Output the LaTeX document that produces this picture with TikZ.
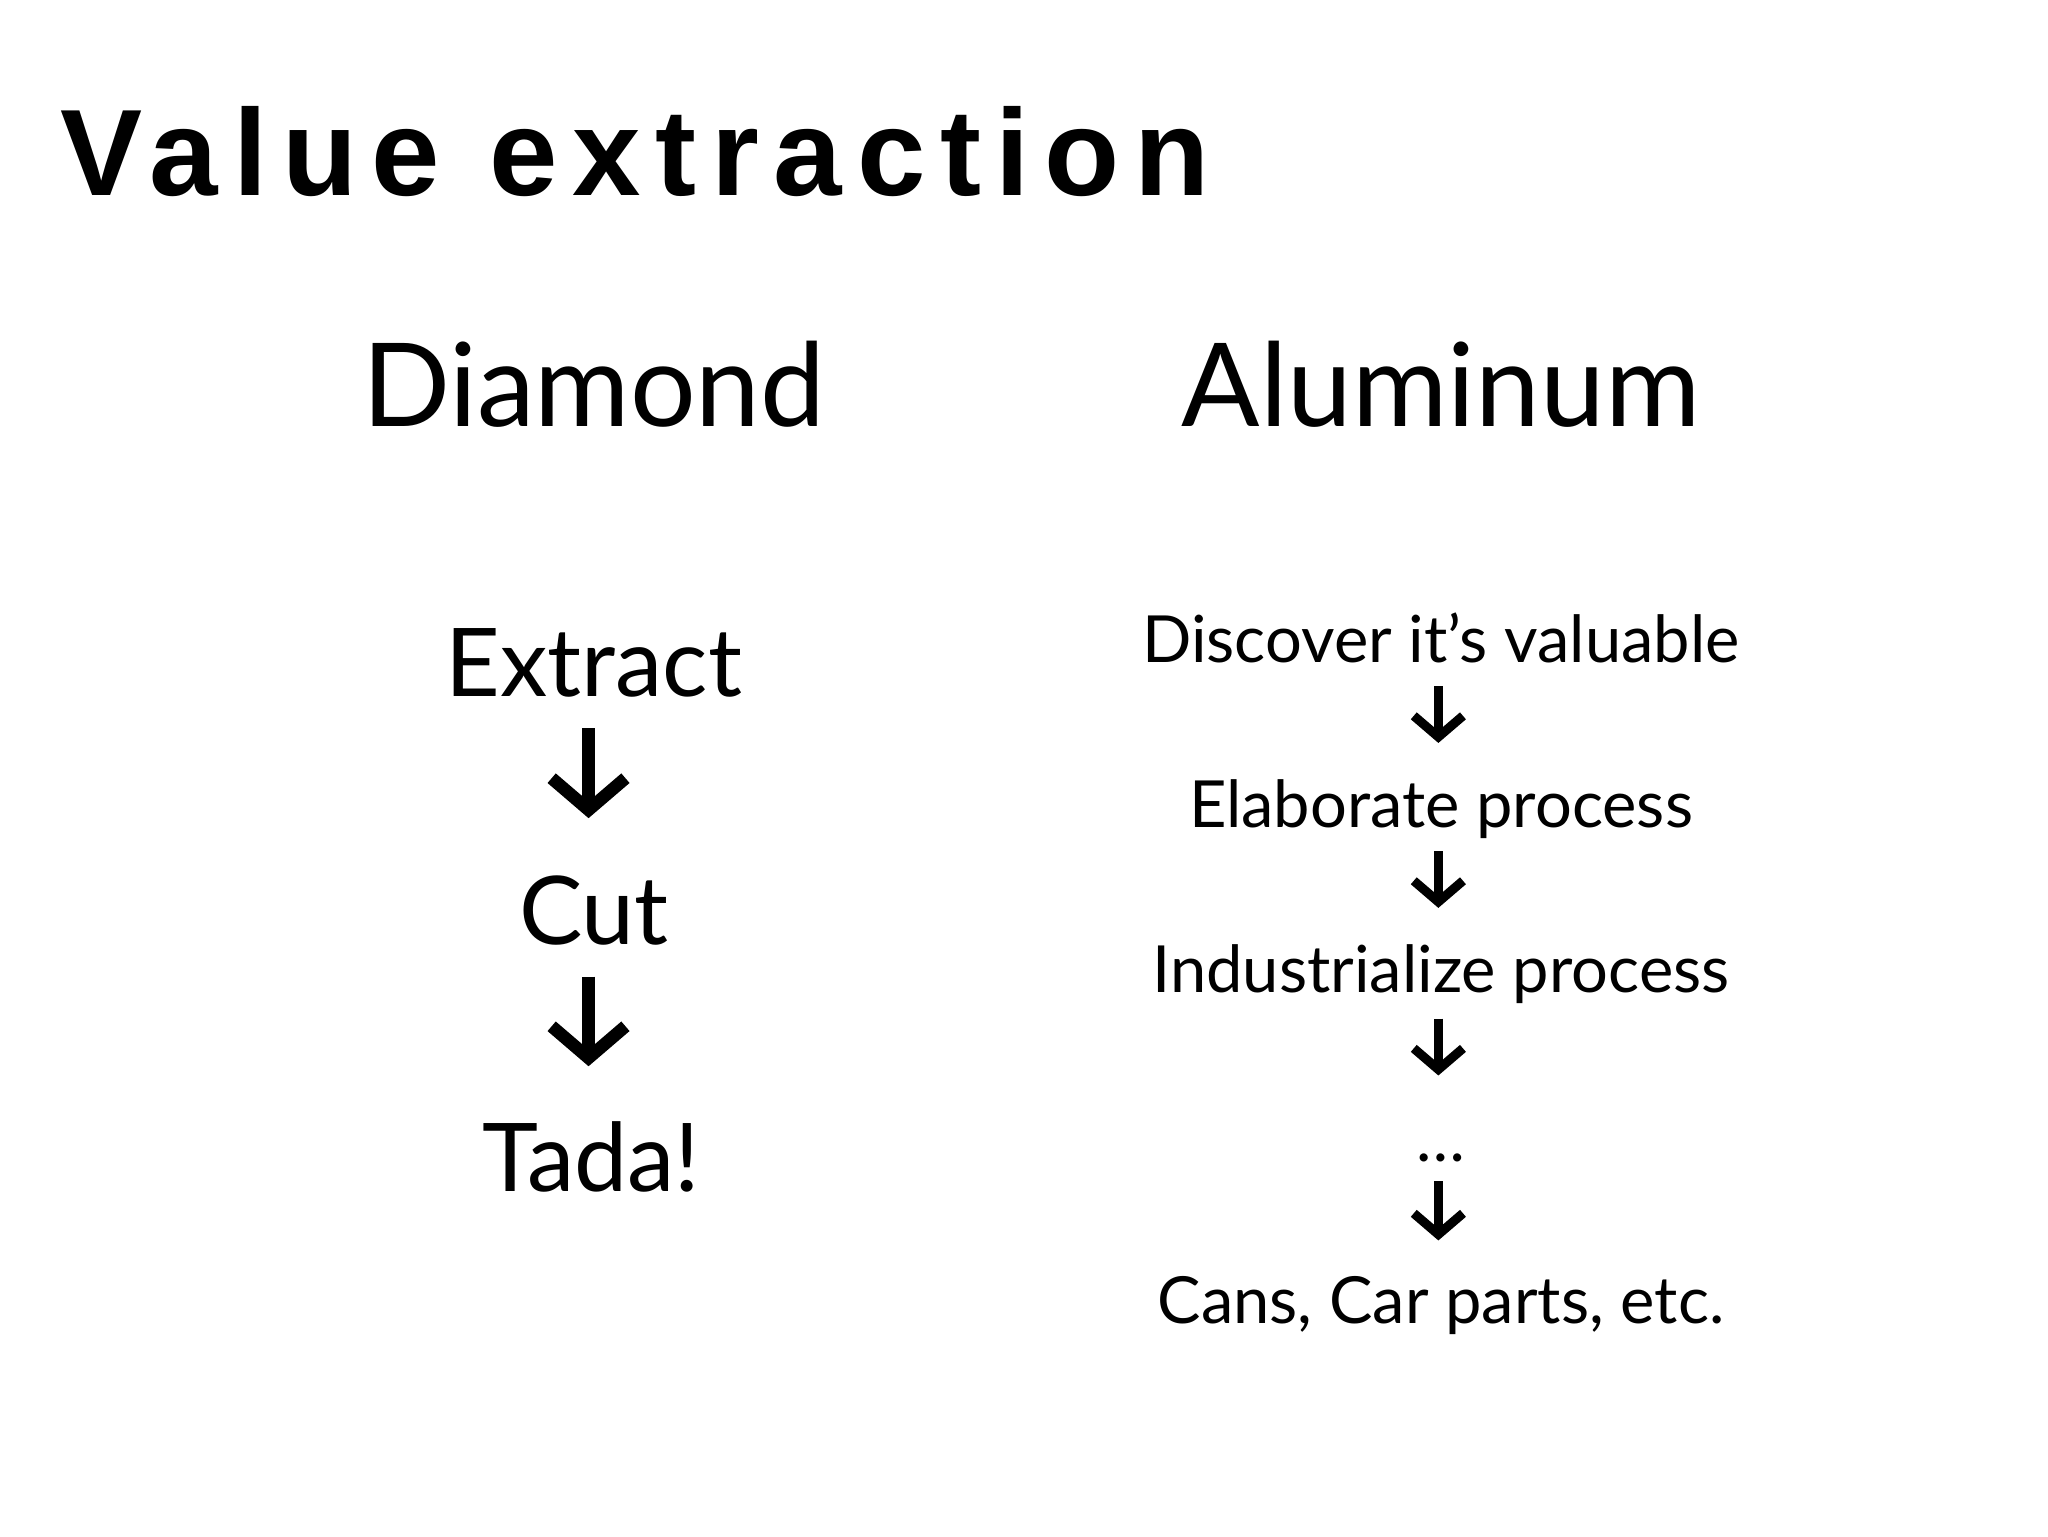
\documentclass[tikz,border=0pt]{standalone}
\usepackage{fontspec}
\setmainfont{Lato}
\newfontfamily\titlefont[LetterSpace=12]{Liberation Sans}
\usetikzlibrary{arrows.meta}
\tikzset{
  lbl/.style={anchor=base,inner sep=0pt,font=\fontsize{27}{30}\selectfont},
  head/.style={anchor=base,inner sep=0pt,font=\fontsize{33}{36}\selectfont},
  sm/.style={anchor=base,inner sep=0pt,font=\fontsize{18.5}{22}\selectfont},
  bigarr/.style={line width=3.6pt,-{Straight Barb[length=9pt,width=21pt,line width=3.6pt]}},
  smarr/.style={line width=2.6pt,-{Straight Barb[length=6pt,width=14pt,line width=2.6pt]}},
}
\begin{document}
\begin{tikzpicture}[x=0.0132cm,y=-0.0132cm]
\useasboundingbox (0,0) rectangle (1552,1164);
\node[anchor=base west,inner sep=0pt,font=\titlefont\bfseries\fontsize{35}{40}\selectfont] (title) at (45,148) {Value extraction};
\node[head] (dia) at (450,323) {Diamond};
\node[head] (alu) at (1092,323) {Aluminum};
\node[lbl] (ext) at (450,528) {Extract};
\node[lbl] (cut) at (450,716) {Cut};
\node[lbl] (tada) at (448,903) {Tada!};
\coordinate (a1s) at (446,552); \coordinate (a1e) at (446,620);
\coordinate (a2s) at (446,740); \coordinate (a2e) at (446,808);
\draw[bigarr] (a1s) -- (a1e);
\draw[bigarr] (a2s) -- (a2e);
\node[sm] (d1) at (1092,502) {Discover it’s valuable};
\node[sm] (d2) at (1092,627) {Elaborate process};
\node[sm] (d3) at (1092,752) {Industrialize process};
\node[sm] (d4) at (1092,880) {\dots};
\node[sm] (d5) at (1092,1003) {Cans, Car parts, etc.};
\foreach \s/\e/\n in {520/563/b1,645/688/b2,772/815/b3,895/940/b4}{
  \coordinate (\n s) at (1090,\s); \coordinate (\n e) at (1090,\e);
  \draw[smarr] (\n s) -- (\n e);
}
\end{tikzpicture}
\end{document}
